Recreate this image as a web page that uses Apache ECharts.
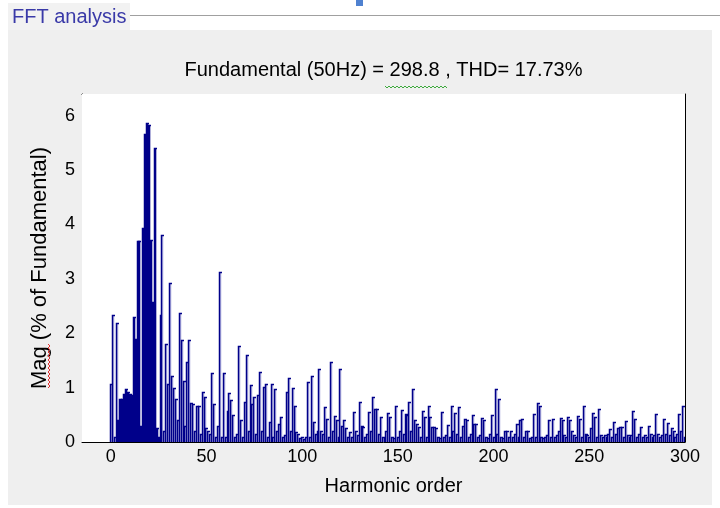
<!DOCTYPE html>
<html><head><meta charset="utf-8">
<script src="https://cdn.jsdelivr.net/npm/echarts@6/dist/echarts.min.js"></script>
<style>html,body{margin:0;padding:0;background:#fff}#c{width:720px;height:508px}</style>
</head><body><div id="c"></div>
<script>
const panelTitle = 'FFT analysis';
const titleText = 'Fundamental (50Hz) = 298.8 , THD= 17.73%';
const xName = 'Harmonic order';
const yName = 'Mag (% of Fundamental)';
const xTicks = [0, 50, 100, 150, 200, 250, 300];
const yTicks = [0, 1, 2, 3, 4, 5, 6];
// magnitude (% of fundamental) for harmonic orders 0..300
const harmonicMag = [
  1.07, 2.34, 0.10, 2.19, 0.40, 0.80, 0.80, 0.88, 0.98, 0.92,
  0.89, 0.87, 2.30, 1.90, 3.70, 3.69, 0.30, 3.93, 5.67, 5.86,
  5.83, 3.72, 2.58, 5.41, 0.25, 0.10, 2.33, 3.80, 0.20, 1.81,
  1.07, 2.93, 1.21, 0.99, 0.80, 0.40, 2.37, 1.88, 1.13, 0.30,
  1.47, 1.88, 0.71, 0.69, 0.20, 0.67, 0.67, 0.15, 0.92, 0.82,
  0.25, 0.20, 0.15, 1.27, 0.69, 0.10, 0.30, 3.13, 0.10, 1.26,
  0.10, 0.57, 0.90, 0.78, 0.50, 0.10, 0.15, 1.76, 0.40, 0.10,
  0.73, 1.60, 0.20, 1.04, 0.70, 0.83, 0.15, 0.86, 1.29, 0.20,
  1.01, 1.07, 0.10, 0.37, 1.07, 0.10, 0.98, 0.20, 0.34, 0.46,
  0.10, 0.12, 0.92, 1.17, 0.20, 1.00, 0.66, 0.18, 0.15, 0.08,
  0.10, 0.06, 0.10, 1.10, 0.10, 1.21, 0.37, 0.15, 0.20, 1.35,
  0.20, 0.15, 0.64, 0.43, 0.10, 1.48, 0.20, 0.48, 0.40, 0.10,
  1.35, 0.30, 0.40, 0.25, 0.10, 0.18, 0.10, 0.55, 0.20, 0.12,
  0.74, 0.30, 0.27, 0.10, 0.15, 0.55, 0.20, 0.83, 0.60, 0.60,
  0.15, 0.46, 0.10, 0.08, 0.20, 0.53, 0.46, 0.10, 0.08, 0.67,
  0.10, 0.20, 0.58, 0.15, 0.51, 0.49, 0.74, 0.20, 0.98, 0.40,
  0.34, 0.28, 0.10, 0.57, 0.46, 0.10, 0.66, 0.46, 0.28, 0.28,
  0.25, 0.10, 0.08, 0.55, 0.10, 0.12, 0.31, 0.10, 0.67, 0.20,
  0.53, 0.15, 0.64, 0.10, 0.29, 0.43, 0.40, 0.10, 0.15, 0.49,
  0.34, 0.34, 0.10, 0.12, 0.45, 0.40, 0.10, 0.08, 0.15, 0.49,
  0.10, 0.98, 0.15, 0.79, 0.10, 0.08, 0.21, 0.21, 0.10, 0.21,
  0.10, 0.15, 0.34, 0.10, 0.40, 0.42, 0.10, 0.21, 0.21, 0.08,
  0.10, 0.51, 0.10, 0.72, 0.67, 0.10, 0.08, 0.10, 0.12, 0.40,
  0.10, 0.43, 0.10, 0.12, 0.20, 0.45, 0.40, 0.12, 0.10, 0.46,
  0.40, 0.20, 0.12, 0.10, 0.47, 0.43, 0.10, 0.66, 0.15, 0.12,
  0.10, 0.26, 0.53, 0.46, 0.10, 0.61, 0.12, 0.10, 0.12, 0.10,
  0.15, 0.23, 0.10, 0.37, 0.15, 0.25, 0.28, 0.28, 0.10, 0.39,
  0.12, 0.10, 0.12, 0.57, 0.43, 0.10, 0.15, 0.28, 0.10, 0.12,
  0.10, 0.30, 0.15, 0.10, 0.12, 0.52, 0.15, 0.10, 0.12, 0.43,
  0.15, 0.35, 0.12, 0.25, 0.20, 0.10, 0.15, 0.51, 0.20, 0.66,
  0.10
];
const harmonicOrder = harmonicMag.map((_, i) => i);
const DENSE_MIN = 4, DENSE_MAX = 25;

const NAVY = '#00008a';
const LAVENDER = '#b9b9e2';
const FONT = '"Liberation Sans", Arial, sans-serif';

const lowData = [], highData = [];
harmonicOrder.forEach((h, i) => {
  (h >= DENSE_MIN && h <= DENSE_MAX ? lowData : highData).push([h, harmonicMag[i]]);
});

function renderBar(solid) {
  return function (params, api) {
    const h = api.value(0), v = api.value(1);
    const base = api.coord([h, 0]);
    const top = api.coord([h, v]);
    const unit = api.size([1, 0])[0];
    const x0 = Math.round(base[0] - unit * 0.5) + 0.5;
    const yT = Math.round(top[1]) + 0.5;
    const children = [];
    if (solid) {
      children.push({ type: 'rect', shape: { x: x0 - 0.5, y: yT, width: unit + 0.4, height: base[1] - yT },
        style: { fill: NAVY } });
    } else {
      children.push({ type: 'rect', shape: { x: x0, y: yT, width: unit * 0.95, height: base[1] - yT },
        style: { fill: LAVENDER } });
    }
    children.push({ type: 'polyline', shape: { points: [[x0, base[1]], [x0, yT], [x0 + unit * 1.3, yT]] },
      style: { stroke: NAVY, lineWidth: 1.5, fill: null } });
    return { type: 'group', children };
  };
}

function squiggle(x0, y0, len, vertical) {
  const pts = [];
  for (let i = 0; i <= len; i += 2) {
    const off = (i / 2) % 2 === 0 ? 0 : 2;
    pts.push(vertical ? [x0 + off, y0 - i] : [x0 + i, y0 + off]);
  }
  return pts;
}

const chart = echarts.init(document.getElementById('c'), null, { renderer: 'canvas' });
const axisLineStyle = { color: '#000', width: 1 };
chart.setOption({
  backgroundColor: '#ffffff',
  animation: false,
  textStyle: { fontFamily: FONT },
  grid: { left: 82, right: 35, top: 94, bottom: 66, show: true, backgroundColor: '#ffffff', borderWidth: 0, z: 1 },
  graphic: [
    { type: 'rect', z: -10, shape: { x: 8, y: 30, width: 704, height: 475 }, style: { fill: '#efefef' } },
    { type: 'rect', z: -10, shape: { x: 8, y: 3, width: 122, height: 27 }, style: { fill: '#f2f2f2' } },
    { type: 'line', z: -9, shape: { x1: 130, y1: 15.5, x2: 720, y2: 15.5 }, style: { stroke: '#a0a0a0', lineWidth: 1 } },
    { type: 'line', z: -9, shape: { x1: 130, y1: 16.5, x2: 720, y2: 16.5 }, style: { stroke: '#ffffff', lineWidth: 1 } },
    { type: 'rect', z: -9, shape: { x: 356, y: 0, width: 7, height: 6 }, style: { fill: '#4f81d0' } },
    { type: 'text', z: 5, x: 12, y: 17, style: { text: panelTitle, fill: '#3a3aa8', font: '20px ' + FONT, textAlign: 'left', textVerticalAlign: 'middle' } },
    { type: 'text', z: 5, x: 383.5, y: 70, style: { text: titleText, fill: '#000', font: '20px ' + FONT, textAlign: 'center', textVerticalAlign: 'middle' } },
    { type: 'polyline', z: 5, shape: { points: squiggle(385, 86, 62, false) }, style: { stroke: '#3caa3c', lineWidth: 1, fill: null } },
    { type: 'polyline', z: 5, shape: { points: squiggle(48, 388, 44, true) }, style: { stroke: '#e03030', lineWidth: 1, fill: null } }
  ],
  xAxis: [
    { type: 'value', position: 'bottom', min: -15, max: 300,
      name: xName, nameLocation: 'middle', nameGap: 34,
      nameTextStyle: { color: '#000', fontSize: 20, fontFamily: FONT, padding: [0, 0, 0, 20] },
      axisLine: { show: true, onZero: false, lineStyle: axisLineStyle },
      axisTick: { show: true, inside: true, length: 6, customValues: xTicks, lineStyle: axisLineStyle },
      axisLabel: { show: true, customValues: xTicks, color: '#000', fontSize: 18, margin: 6, fontFamily: FONT },
      splitLine: { show: false } },
    { type: 'value', position: 'top', min: -15, max: 300,
      axisLine: { show: true, onZero: false, lineStyle: axisLineStyle },
      axisTick: { show: true, inside: true, length: 6, customValues: xTicks, lineStyle: axisLineStyle },
      axisLabel: { show: false }, splitLine: { show: false } }
  ],
  yAxis: [
    { type: 'value', position: 'left', min: 0, max: 6.4,
      name: yName, nameLocation: 'middle', nameGap: 31,
      nameTextStyle: { color: '#000', fontSize: 22, fontFamily: FONT },
      axisLine: { show: true, onZero: false, lineStyle: axisLineStyle },
      axisTick: { show: true, inside: true, length: 6, customValues: yTicks, lineStyle: axisLineStyle },
      axisLabel: { show: true, customValues: yTicks, color: '#000', fontSize: 18, margin: 7, fontFamily: FONT },
      splitLine: { show: false } },
    { type: 'value', position: 'right', min: 0, max: 6.4,
      axisLine: { show: true, onZero: false, lineStyle: axisLineStyle },
      axisTick: { show: true, inside: true, length: 6, customValues: yTicks, lineStyle: axisLineStyle },
      axisLabel: { show: false }, splitLine: { show: false } }
  ],
  series: [
    { type: 'custom', name: 'high', xAxisIndex: 0, yAxisIndex: 0, clip: true, z: 2,
      renderItem: renderBar(false), data: highData },
    { type: 'custom', name: 'low', xAxisIndex: 0, yAxisIndex: 0, clip: true, z: 3,
      renderItem: renderBar(true), data: lowData }
  ]
});
</script></body></html>
